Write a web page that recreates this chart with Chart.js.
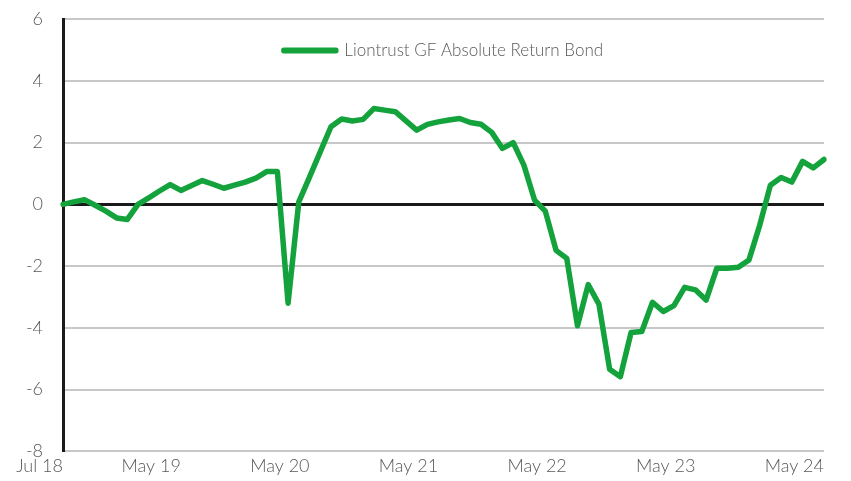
<!DOCTYPE html>
<html>
<head>
<meta charset="utf-8">
<script src="https://cdn.jsdelivr.net/npm/chart.js@4.4.1/dist/chart.umd.min.js"></script>
<style>
    html, body { margin: 0; padding: 0; background: #ffffff; }
    #wrap { width: 851px; height: 481px; }
</style>
</head>
<body>
<div id="wrap"><canvas id="chart" width="851" height="481"></canvas></div>
<script>
// 月度类别（起点为基准点）
const months = [
    'Jun 18', 'Jul 18', 'Aug 18', 'Sep 18', 'Oct 18', 'Nov 18', 'Dec 18',
    'Jan 19', 'Feb 19', 'Mar 19', 'Apr 19', 'May 19', 'Jun 19', 'Jul 19', 'Aug 19', 'Sep 19', 'Oct 19', 'Nov 19', 'Dec 19',
    'Jan 20', 'Feb 20', 'Mar 20', 'Apr 20', 'May 20', 'Jun 20', 'Jul 20', 'Aug 20', 'Sep 20', 'Oct 20', 'Nov 20', 'Dec 20',
    'Jan 21', 'Feb 21', 'Mar 21', 'Apr 21', 'May 21', 'Jun 21', 'Jul 21', 'Aug 21', 'Sep 21', 'Oct 21', 'Nov 21', 'Dec 21',
    'Jan 22', 'Feb 22', 'Mar 22', 'Apr 22', 'May 22', 'Jun 22', 'Jul 22', 'Aug 22', 'Sep 22', 'Oct 22', 'Nov 22', 'Dec 22',
    'Jan 23', 'Feb 23', 'Mar 23', 'Apr 23', 'May 23', 'Jun 23', 'Jul 23', 'Aug 23', 'Sep 23', 'Oct 23', 'Nov 23', 'Dec 23',
    'Jan 24', 'Feb 24', 'Mar 24', 'Apr 24', 'May 24'
];

// 累计回报 (%)
const returns = [
    0.00, 0.08, 0.15, -0.03, -0.22, -0.44, -0.49,
    0.00, 0.21, 0.43, 0.64, 0.45, 0.61, 0.77, 0.65, 0.52, 0.62, 0.72,
    0.85, 1.06, 1.06, -3.20, 0.08, 0.88, 1.70, 2.51, 2.76, 2.70, 2.75,
    3.10, 3.05, 3.00, 2.70, 2.40, 2.59, 2.67, 2.73, 2.78, 2.65, 2.59,
    2.33, 1.81, 2.00, 1.27, 0.13, -0.22, -1.49, -1.75, -3.93, -2.60,
    -3.23, -5.34, -5.58, -4.15, -4.12, -3.17, -3.47, -3.28, -2.69, -2.77,
    -3.10, -2.07, -2.07, -2.04, -1.80, -0.68, 0.62, 0.87, 0.72, 1.39,
    1.18, 1.45
];

// 横轴显示的刻度
const tickIndex = [0, 11, 23, 35, 47, 59, 71];
const tickLabels = ['Jul 18', 'May 19', 'May 20', 'May 21', 'May 22', 'May 23', 'May 24'];

const seriesName = 'Liontrust GF Absolute Return Bond';
const green = '#13a23c';
const textGray = '#595959';

// 把图例移到绘图区顶部居中
const legendInside = {
    id: 'legendInside',
    afterLayout(chart) {
        const lg = chart.legend;
        const area = chart.chartArea;
        if (!lg || !lg.legendHitBoxes || !lg.legendHitBoxes.length) return;
        const pad = lg.options.labels.padding;
        const itemW = lg.legendHitBoxes[0].width;
        const w = lg.width, h = lg.height;
        lg.left = (area.left + area.right) / 2 - itemW / 2 - pad;
        lg.right = lg.left + w;
        lg.top = area.top + 13;
        lg.bottom = lg.top + h;
    }
};

const ctx = document.getElementById('chart').getContext('2d');
new Chart(ctx, {
    type: 'line',
    data: {
        labels: months,
        datasets: [{
            label: seriesName,
            data: returns,
            borderColor: green,
            backgroundColor: green,
            borderWidth: 5.5,
            pointRadius: 0,
            tension: 0,
            borderJoinStyle: 'round',
            borderCapStyle: 'round'
        }]
    },
    plugins: [legendInside],
    options: {
        responsive: false,
        animation: false,
        devicePixelRatio: 1,
        layout: {
            padding: { top: 19, right: 27, left: 6, bottom: 0 }
        },
        plugins: {
            tooltip: { enabled: false },
            legend: {
                display: true,
                position: 'chartArea',
                align: 'start',
                labels: {
                    color: textGray,
                    font: { family: 'Lato', size: 17, weight: '300' },
                    boxWidth: 52,
                    boxHeight: 0.5,
                    padding: 10
                }
            }
        },
        scales: {
            x: {
                type: 'category',
                offset: false,
                grid: { display: false, drawTicks: false },
                border: { display: false },
                ticks: {
                    autoSkip: false,
                    maxRotation: 0,
                    minRotation: 0,
                    align: 'end',
                    padding: 4,
                    color: textGray,
                    font: { family: 'Lato', size: 18, weight: '300' },
                    callback: function(value, index) {
                        const k = tickIndex.indexOf(index);
                        return k >= 0 ? tickLabels[k] : '';
                    }
                }
            },
            y: {
                min: -8,
                max: 6,
                afterFit: function(scale) { scale.width = 57; },
                ticks: {
                    stepSize: 2,
                    padding: 0,
                    color: textGray,
                    font: { family: 'Lato', size: 18, weight: '300' }
                },
                grid: {
                    drawTicks: true,
                    tickLength: 20,
                    tickColor: 'rgba(0,0,0,0)',
                    color: function(c) { return c.tick && c.tick.value === 0 ? '#1a1a1a' : '#c8c8c8'; },
                    lineWidth: function(c) { return c.tick && c.tick.value === 0 ? 3 : 2; }
                },
                border: { display: true, color: '#1a1a1a', width: 3 }
            }
        }
    }
});
</script>
</body>
</html>
